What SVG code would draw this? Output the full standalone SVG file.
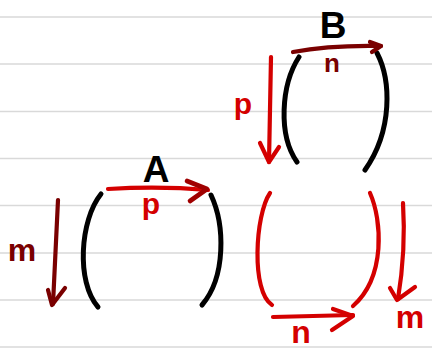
<svg xmlns="http://www.w3.org/2000/svg" width="432" height="351" viewBox="0 0 432 351">
<defs>
<style>
.rule{stroke:#d9d9d9;stroke-width:1.6}
.blk{fill:none;stroke:#000;stroke-width:5;stroke-linecap:round;stroke-linejoin:round}
.red{fill:none;stroke:#d40000;stroke-width:4.2;stroke-linecap:round;stroke-linejoin:round}
.dred{fill:none;stroke:#7a0000;stroke-width:4.2;stroke-linecap:round;stroke-linejoin:round}
.t{font-family:"Liberation Sans",Arial,sans-serif;font-weight:bold;text-anchor:middle}
</style>
<linearGradient id="ga" x1="108" y1="0" x2="208" y2="0" gradientUnits="userSpaceOnUse">
<stop offset="0" stop-color="#e00000"/><stop offset="0.75" stop-color="#d40000"/><stop offset="1" stop-color="#8a0000"/>
</linearGradient>
</defs>
<rect width="432" height="351" fill="#fff"/>
<g id="paper">
<line class="rule" x1="0" y1="17" x2="432" y2="17"/>
<line class="rule" x1="0" y1="64" x2="432" y2="64"/>
<line class="rule" x1="0" y1="111.5" x2="432" y2="111.5"/>
<line class="rule" x1="0" y1="158.5" x2="432" y2="158.5"/>
<line class="rule" x1="0" y1="205.5" x2="432" y2="205.5"/>
<line class="rule" x1="0" y1="253" x2="432" y2="253"/>
<line class="rule" x1="0" y1="300" x2="432" y2="300"/>
<line class="rule" x1="0" y1="347" x2="432" y2="347"/>
</g>
<g id="matrixB">
<path class="blk" d="M299,57 C281,85 278,135 297,162"/>
<path class="blk" d="M377,53 C391,80 393,130 365,170"/>
<text class="t" x="333" y="38" font-size="37" fill="#000">B</text>
</g>
<g id="matrixA">
<path class="blk" d="M101,194 C80,220 76,282 98,307"/>
<path class="blk" d="M211,195 C225,225 226,277 202,305"/>
<text class="t" x="156" y="182" font-size="37" fill="#000">A</text>
</g>
<g id="matrixC">
<path class="red" d="M270,193 C255,215 251,292 272,305"/>
<path class="red" d="M370,193 C382,220 386,277 353,306"/>
</g>
<g id="connectors">
<path class="dred" d="M293,52 Q330,45 381,46"/>
<path class="dred" d="M370,42 L381,46 L372,52"/>
<path class="red" d="M271,57 L269,162"/>
<path class="red" d="M260,143 L269,162 L279,147"/>
<path class="red" stroke="url(#ga)" d="M108,189 Q160,186 208,190"/>
<path d="M187,181 L207,189 L190,201" fill="none" stroke="#a00000" stroke-width="4.6" stroke-linecap="round" stroke-linejoin="round"/>
<path class="dred" d="M58,200 L53,304"/>
<path class="dred" d="M48,290 L52,305 L65,288"/>
<path class="red" d="M273,317 L353,315"/>
<path class="red" d="M333,309 L353,316 L332,330"/>
<path class="red" d="M403,203 Q406,250 398,299"/>
<path class="red" d="M390,288 L397,300 L415,287"/>
</g>
<g id="labels">
<text class="t" x="332" y="72" font-size="26" fill="#7a0000">n</text>
<text class="t" x="243" y="114" font-size="30" fill="#d40000">p</text>
<text class="t" x="151" y="214" font-size="30" fill="#d40000">p</text>
<text class="t" x="22" y="261" font-size="32" fill="#7a0000">m</text>
<text class="t" x="410" y="328" font-size="32" fill="#d40000">m</text>
<text class="t" x="301" y="343" font-size="32" fill="#d40000">n</text>
</g>
</svg>
